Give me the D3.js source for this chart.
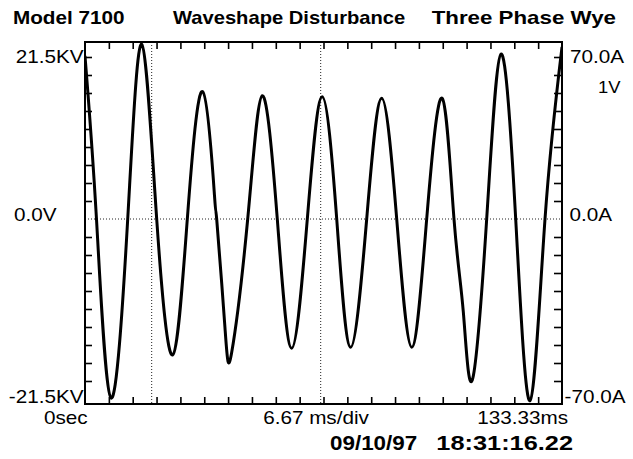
<!DOCTYPE html>
<html>
<head>
<meta charset="utf-8">
<script src="https://cdn.jsdelivr.net/npm/d3@7"></script>
<style>
  body { margin: 0; background: #fff; }
  svg { display: block; }
  text { font-family: "Liberation Sans", Arial, Helvetica, sans-serif; fill: #000; }
</style>
</head>
<body>
<div id="chart"></div>
<script>
// ---- data -----------------------------------------------------------------
// time (ms) and voltage (kV) at peaks, zero crossings, troughs and kinks
const timeMs = [0.00, 3.21, 7.27, 11.94, 15.85, 20.04, 24.51, 28.60, 32.90, 36.20,
  36.81, 39.13, 41.01, 45.48, 49.56, 53.75, 57.78, 62.14, 66.30, 70.36, 74.27,
  78.74, 82.93, 87.13, 91.32, 95.51, 99.84, 103.14, 105.74, 108.26, 112.28,
  116.28, 120.39, 124.39, 128.58, 133.33];
const kV = [19.47, 0, -21.38, 0, 20.87, 0, -16.24, 0, 15.21, 2.75,
  0, -13.02, -15.92, 0, 14.73, 0, -15.44, 0, 14.61, 0, -15.32,
  0, 14.42, 0, -15.32, 0, 14.42, 0, -11.07, -19.23, 0,
  19.71, 0, -21.70, 0, 20.54];

const cursorMs = [18.64, 65.88];          // dotted cursor lines
const labelValues = [21.5, 0, -21.5];
const leftLabels = ['21.5KV', '0.0V', '-21.5KV'];
const rightLabels = ['70.0A', '0.0A', '-70.0A'];
const timeLabels = ['0sec', '6.67 ms/div', '133.33ms'];
const titleParts = ['Model 7100', 'Waveshape Disturbance', 'Three Phase Wye'];
const stamp = ['09/10/97', '18:31:16.22'];
const rangeNote = '1V';

const fullScaleKV = 21.5;
const spanMs = 133.33;
const divisions = 20;

// ---- layout ---------------------------------------------------------------
const W = 633, H = 459;
const plot = { left: 85, right: 562, top: 42, bottom: 404 };
const SX = 1.15; // the scope font is a bit wider than Liberation Sans

const svg = d3.select('#chart').append('svg')
  .attr('width', W).attr('height', H);

const x = d3.scaleLinear().domain([0, spanMs]).range([plot.left, plot.right]);
const y = d3.scaleLinear().domain([-fullScaleKV, fullScaleKV]).range([399, 39]);

function label(px, py, str, opts = {}) {
  svg.append('g')
    .attr('transform', `translate(${px},${py}) scale(${opts.sx || SX},1)`)
    .append('text')
    .attr('text-anchor', opts.anchor || 'start')
    .attr('font-size', opts.size || 18)
    .attr('font-weight', opts.bold ? 'bold' : 'normal')
    .text(str);
}

// ticks (every division / every tenth of full scale), pointing inward
const xTicks = d3.range(1, divisions).map(k => k * spanMs / divisions);
const yTicks = d3.range(-9, 10).filter(k => k !== 0).map(k => k * fullScaleKV / 10);

function tickAxis(axis, tx, ty) {
  const g = svg.append('g').attr('transform', `translate(${tx},${ty})`).call(axis);
  g.select('.domain').remove();
  g.selectAll('.tick line').attr('stroke', '#000').attr('stroke-width', 1.6);
  g.selectAll('.tick text').remove();
}
tickAxis(d3.axisTop(x).tickValues(xTicks).tickSize(-7), 0, plot.top);
tickAxis(d3.axisBottom(x).tickValues(xTicks).tickSize(-7), 0, plot.bottom);
tickAxis(d3.axisLeft(y).tickValues(yTicks).tickSize(-7), plot.left, 0);
tickAxis(d3.axisRight(y).tickValues(yTicks).tickSize(-8), plot.right, 0);

// dotted zero line and cursors
svg.append('line')
  .attr('x1', plot.left).attr('x2', plot.right)
  .attr('y1', y(0)).attr('y2', y(0))
  .attr('stroke', '#222').attr('stroke-width', 1).attr('stroke-dasharray', '1,2');
svg.selectAll('.cursor').data(cursorMs).join('line')
  .attr('class', 'cursor')
  .attr('x1', d => x(d)).attr('x2', d => x(d))
  .attr('y1', plot.top).attr('y2', plot.bottom)
  .attr('stroke', '#222').attr('stroke-width', 1).attr('stroke-dasharray', '1,2');

// waveform
svg.append('clipPath').attr('id', 'plot-clip')
  .append('rect')
  .attr('x', plot.left).attr('y', plot.top)
  .attr('width', plot.right - plot.left).attr('height', plot.bottom - plot.top);

const line = d3.line()
  .x((d, i) => x(timeMs[i]))
  .y(d => y(d))
  .curve(d3.curveNatural);

svg.append('path')
  .datum(kV)
  .attr('clip-path', 'url(#plot-clip)')
  .attr('fill', 'none')
  .attr('stroke', '#000')
  .attr('stroke-width', 3)
  .attr('stroke-linejoin', 'round')
  .attr('d', line);

// frame
svg.append('rect')
  .attr('x', plot.left).attr('y', plot.top)
  .attr('width', plot.right - plot.left).attr('height', plot.bottom - plot.top)
  .attr('fill', 'none').attr('stroke', '#000').attr('stroke-width', 2);

// titles
label(13, 24, titleParts[0], { bold: true });
label(173, 24, titleParts[1], { bold: true, sx: 1.12 });
label(616, 24, titleParts[2], { bold: true, anchor: 'end', sx: 1.24 });

// vertical scale labels
const leftX = [83.5, 14, 83.5];
const leftAnchor = ['end', 'start', 'end'];
const baseline = v => v > 0 ? plot.top + 21 : v < 0 ? plot.bottom - 1 : y(0) + 2;
labelValues.forEach((v, i) => {
  label(leftX[i], baseline(v), leftLabels[i], { anchor: leftAnchor[i] });
});
const rightX = [570, 569.5, 564.5];
labelValues.forEach((v, i) => {
  label(rightX[i], baseline(v), rightLabels[i]);
});
label(598, 93, rangeNote, { size: 16 });

// time labels
label(44, 424, timeLabels[0]);
label(316, 424, timeLabels[1], { anchor: 'middle' });
label(568, 424, timeLabels[2], { anchor: 'end' });

// time stamp
label(330, 450, stamp[0], { bold: true, size: 19.5 });
label(573, 450, stamp[1], { bold: true, size: 19.5, anchor: 'end', sx: 1.3 });
</script>
</body>
</html>
